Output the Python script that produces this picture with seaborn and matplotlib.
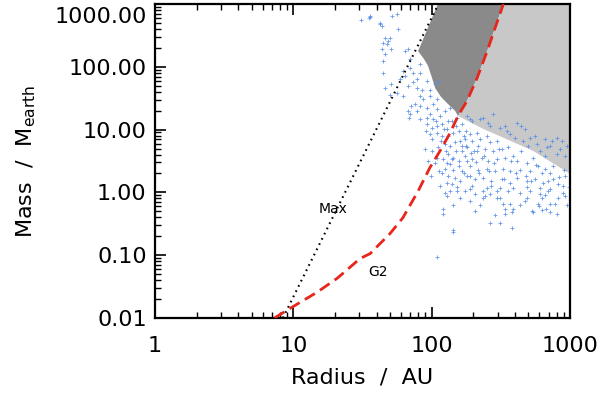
import numpy as np
import pandas as pd
import matplotlib
matplotlib.use("Agg")
import matplotlib.pyplot as plt
import matplotlib.transforms as mtransforms
import seaborn as sns

# ---------------- data ----------------
# "Max" curve (dotted)
max_r = [8.4, 112.0]
max_m = [0.01, 1000.0]

# "G2" curve (red dashed)
g2_r = [7.3, 9.5, 14.8, 20.7, 30.4, 35.9, 50.0, 62.0, 80.0, 97.0, 115.0, 136.0,
        155.0, 180.0, 213.0, 252.0, 287.0, 330.0]
g2_m = [0.01, 0.0143, 0.0256, 0.0427, 0.0887, 0.106, 0.221, 0.396, 1.06, 2.47,
        4.59, 8.87, 16.5, 28.6, 66.2, 178.0, 411.0, 1000.0]

# dark grey region: left boundary (top -> junction with G2)
dark_edge_r = [111.0, 79.8, 88.2, 94.2, 100.7, 106.0, 117.0, 129.0, 148.0, 155.0]
dark_edge_m = [1000.0, 178.0, 132.0, 103.0, 66.0, 45.9, 33.0, 26.5, 19.8, 16.5]

# light grey region: lower boundary (junction -> right edge)
light_edge_r = [155.0, 235.0, 541.0, 1000.0]
light_edge_m = [16.5, 10.3, 4.59, 1.98]

# scattered simulated planets
radius_au = [
    31, 35, 36, 42, 44, 56, 52, 57, 44.5, 47.5, 50, 44, 51, 46, 44.5, 64, 67, 70,
    44.5, 51, 46, 62, 70, 73, 64, 78, 83, 83, 92, 73, 67, 78, 85, 97, 106, 111,
    56, 50, 62, 82, 97, 109, 36, 42, 46, 48, 59,
    76, 67, 69, 70, 83, 92, 102, 109, 97, 92, 102, 115, 125, 136, 92, 101, 109,
    119, 129, 141, 153, 97, 109, 119, 131, 143, 90, 101, 111, 125, 136, 148, 94,
    109, 121, 131, 143, 136, 125, 143, 119, 131, 148, 129, 141, 115, 153,
    181, 197, 224, 235, 276, 264, 312, 350, 415, 444, 369, 401, 458, 514, 497,
    577, 608, 683, 740, 800, 848, 950, 800, 922, 661,
    167, 177, 189, 214, 174, 197, 224, 251, 264, 296, 181, 214, 243, 276, 323,
    355, 174, 197, 232, 255, 296, 339, 388, 415, 488, 540, 189, 218, 251, 287,
    327, 369, 436, 514, 588, 661, 718, 181, 206, 235, 270, 323, 369, 415, 488,
    559, 640, 756, 815, 922, 197, 251, 312, 388, 488, 608, 718, 890,
    206, 235, 235, 264, 296, 296, 355, 327, 369, 339, 388, 380, 339, 488, 514,
    608, 661, 632, 588, 595, 695, 718, 780, 675, 718, 535, 540, 632, 922, 950,
    264, 380,
    129, 136, 153, 143, 121, 121, 143, 143, 109,
    157, 160, 167, 157, 167, 160, 174, 189, 150, 170, 177, 192, 210, 220, 243,
    270, 312, 436, 473, 815, 885,
    117, 127, 141, 157, 170, 129, 113, 150, 167, 181, 189, 201, 218, 239, 260,
    282, 307, 333, 375, 408, 444, 481, 522, 568, 632, 695, 756, 830, 905, 980,
    101, 107, 123, 91, 82, 78, 86, 71, 131, 106, 99, 125, 160, 189, 224, 287,
    436, 800, 206, 312,
    189, 255, 339, 559, 718, 870, 473, 661,
]
mass_earth = [
    550, 590, 640, 475, 443, 690, 640, 400, 237, 230, 285, 195, 195, 160, 123,
    178, 195, 135, 79, 54, 46, 85, 96, 79, 71, 65, 110, 79, 59, 57, 49, 46, 43,
    43, 54, 59, 38, 36, 34, 34, 34, 31, 610, 490, 285, 256, 65,
    25.5, 19.8, 15.2, 17.8, 23.8, 22, 25.5, 21.5, 17.8, 15.2, 14.6, 16.5, 19.8,
    22, 12.4, 10.7, 11.5, 12.4, 10.1, 13.7, 15.2, 8.5, 8.9, 7.9, 7.9, 8.9, 4.9,
    4.6, 5.2, 6.0, 5.5, 6.3, 3.2, 3.5, 3.4, 4.1, 3.5, 2.8, 2.4, 2.3, 2.0, 1.84,
    1.7, 1.4, 1.35, 1.28, 1.2,
    16.5, 13.7, 14.6, 15.2, 17.8, 11.5, 10.7, 9.5, 12.9, 11.5, 8.5, 7.3, 6.6,
    7.3, 5.5, 6.0, 4.6, 5.2, 6.6, 7.3, 4.9, 5.5, 4.1, 3.8, 3.8,
    12.4, 9.5, 8.5, 8.9, 7.2, 6.6, 7.2, 7.9, 6.3, 6.6, 5.2, 4.6, 4.9, 4.6, 4.9,
    5.2, 3.8, 3.4, 3.5, 3.2, 3.4, 3.5, 3.8, 3.2, 2.9, 3.5, 2.65, 2.3, 2.4, 2.2,
    2.4, 2.2, 2.3, 2.2, 2.65, 2.4, 2.0, 1.84, 1.65, 1.7, 1.53, 1.65, 1.4, 1.7,
    1.53, 1.65, 1.4, 1.65, 1.35, 1.84, 1.28, 1.17, 1.17, 1.17, 1.2, 1.17, 1.12,
    1.28,
    0.95, 1.06, 0.82, 0.95, 1.06, 0.8, 1.06, 0.66, 0.66, 0.55, 0.55, 0.48, 0.45,
    0.82, 1.06, 0.95, 0.92, 0.8, 0.66, 0.6, 1.06, 0.66, 0.66, 0.55, 0.48, 0.51,
    0.48, 0.53, 0.89, 0.63, 0.32, 0.27,
    0.89, 1.06, 1.06, 0.62, 0.55, 0.45, 0.25, 0.23, 0.092,
    9.5, 6.6, 4.6, 3.2, 2.2, 1.53, 1.06, 1.12, 11.5, 7.9, 5.5, 4.2, 3.0, 2.0,
    0.89, 1.28, 0.8, 0.98, 0.74, 0.82, 0.98,
    6.6, 4.6, 3.4, 2.65, 2.0, 2.95, 2.2, 4.6, 5.5, 3.2, 1.84, 4.6, 5.5, 3.8, 2.2,
    2.9, 4.9, 1.65, 3.2, 2.0, 4.6, 1.84, 1.53, 2.75, 2.0, 1.53, 2.65, 1.75, 2.3,
    1.2,
    7.2, 13.7, 10.1, 9.5, 14.6, 19.8, 31, 23.8, 13.7, 2.95, 1.84, 0.98, 0.82,
    0.74, 0.62, 0.43, 0.62, 0.45, 0.51, 0.33,
    14.6, 12.9, 11.5, 7.9, 5.5, 6.6, 10.1, 7.2,
]

x_ticks = [1, 10, 100, 1000]
y_ticks = [0.01, 0.1, 1, 10, 100, 1000]

# ---------------- drawing ----------------
sns.set_theme(style="ticks")
plt.rcParams["font.family"] = ["DejaVu Sans"]
plt.rcParams["mathtext.default"] = "regular"
for key in ("text.color", "axes.labelcolor", "xtick.color", "ytick.color"):
    plt.rcParams[key] = "black"

fig = plt.figure(figsize=(6.0, 3.93), dpi=100)
ax = fig.add_axes([155 / 600, 1 - 318 / 393, 415 / 600, 314 / 393])
ax.set_xscale("log")
ax.set_yscale("log")
ax.set_xlim(1, 1000)
ax.set_ylim(0.01, 1000)

# grey regions
g2_above = [(r, m) for r, m in zip(g2_r, g2_m) if m >= 16.5]
dark_poly = list(zip(dark_edge_r, dark_edge_m)) + g2_above[1:] + [(g2_r[-1], 1000.0)]
ax.fill([p[0] for p in dark_poly], [p[1] for p in dark_poly],
        color="#8a8a8a", lw=0, zorder=1)
light_poly = g2_above + [(1000.0, 1000.0)] + list(zip(light_edge_r, light_edge_m))[::-1]
ax.fill([p[0] for p in light_poly], [p[1] for p in light_poly],
        color="#c8c8c8", lw=0, zorder=1)

df = pd.DataFrame({"radius": radius_au, "mass": mass_earth})
sns.scatterplot(data=df, x="radius", y="mass", ax=ax, marker="+", s=12,
                color="#5a8fe6", linewidth=0.6, alpha=0.9, zorder=2,
                legend=False)

sns.lineplot(x=max_r, y=max_m, ax=ax, color="black", lw=1.5,
             linestyle=(0, (0.8, 2.0)), sort=False, zorder=3)
sns.lineplot(x=g2_r, y=g2_m, ax=ax, color="#e8251b", lw=2.0,
             linestyle=(0, (4.2, 2.2)), sort=False, zorder=3)

ax.text(19.4, 0.55, "Max", fontsize=10, ha="center", va="center", color="black")
ax.text(41, 0.055, "G2", fontsize=10, ha="center", va="center", color="black")

ax.set_xticks(x_ticks)
ax.set_xticklabels([str(t) for t in x_ticks])
ax.set_yticks(y_ticks)
ax.set_yticklabels([f"{t:.2f}" for t in y_ticks])
ax.tick_params(which="major", direction="in", length=8, width=1.2,
               labelsize=16, top=True, right=False, pad=6)
ax.tick_params(axis="x", which="major", pad=13)
ax.tick_params(which="minor", direction="in", length=4, width=1.0,
               top=True, right=False)
for s in ax.spines.values():
    s.set_linewidth(1.6)
    s.set_color("black")

# top y label sits just below the frame top
top_lbl = ax.get_yticklabels()[-1]
top_lbl.set_transform(top_lbl.get_transform() +
                      mtransforms.ScaledTranslation(0, -8 / 72, fig.dpi_scale_trans))

ax.set_xlabel("Radius  /  AU", fontsize=16, labelpad=8)
ax.set_ylabel("Mass  /  M$_{earth}$", fontsize=16, labelpad=12)

fig.savefig("out.png", dpi=100)
